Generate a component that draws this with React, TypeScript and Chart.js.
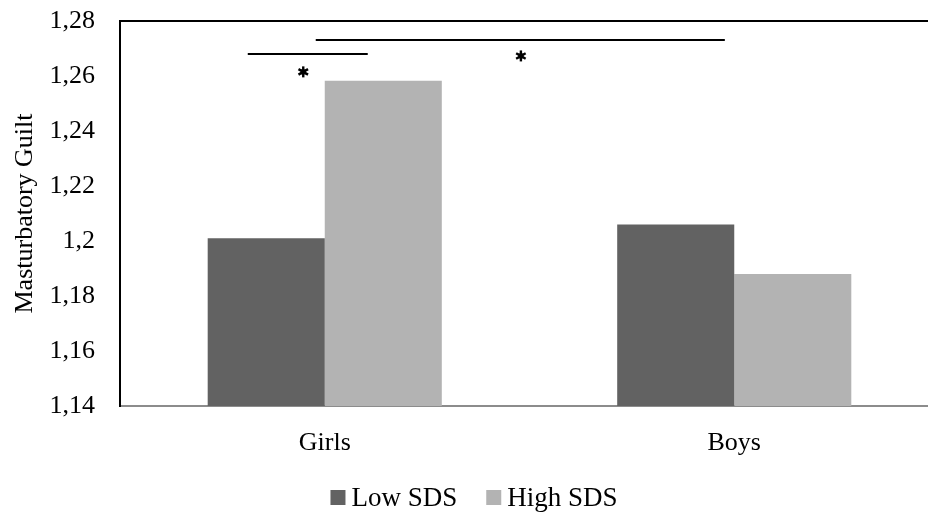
import React, { useEffect, useRef } from "react";
import { Chart, registerables } from "chart.js";

Chart.register(...registerables);

const categories = ["Girls", "Boys"];
const seriesNames = ["Low SDS", "High SDS"];
const lowSDS = [1.201, 1.206];
const highSDS = [1.2583, 1.188];
const seriesColors = ["#626262", "#b3b3b3"];
const yTickValues = [1.14, 1.16, 1.18, 1.2, 1.22, 1.24, 1.26, 1.28];
const yTickLabels = ["1,14", "1,16", "1,18", "1,2", "1,22", "1,24", "1,26", "1,28"];
// significance brackets (x in category-index units, y in data units)
const bracketX1 = [-0.188, -0.022];
const bracketX2 = [0.105, 0.977];
const bracketY = [1.268, 1.2731];
// significance stars
const starX = [-0.0525, 0.479];
const starY = [1.2615, 1.2673];

const FONT = "'Liberation Serif', 'Times New Roman', serif";

const annotationPlugin = {
  id: "sigAnnotations",
  afterDatasetsDraw(chart: any) {
    const { ctx, scales } = chart;
    const xs = scales.x;
    const ys = scales.y;
    ctx.save();
    ctx.strokeStyle = "#000";
    ctx.lineWidth = 2;
    for (let i = 0; i < bracketY.length; i++) {
      const y = Math.round(ys.getPixelForValue(bracketY[i]));
      ctx.beginPath();
      ctx.moveTo(xs.getPixelForValue(bracketX1[i]), y);
      ctx.lineTo(xs.getPixelForValue(bracketX2[i]), y);
      ctx.stroke();
    }
    ctx.lineWidth = 2.4;
    for (let i = 0; i < starX.length; i++) {
      const cx = xs.getPixelForValue(starX[i]);
      const cy = ys.getPixelForValue(starY[i]);
      const r = 5.5;
      for (let k = 0; k < 3; k++) {
        const a = Math.PI / 2 + (k * Math.PI) / 3;
        ctx.beginPath();
        ctx.moveTo(cx + r * Math.cos(a), cy + r * Math.sin(a));
        ctx.lineTo(cx - r * Math.cos(a), cy - r * Math.sin(a));
        ctx.stroke();
      }
      ctx.fillStyle = "#000";
      ctx.fillRect(cx - 2.5, cy - 2.5, 5, 5);
    }
    ctx.restore();
  },
};

const legendPlugin = {
  id: "customLegend",
  afterDraw(chart: any) {
    const { ctx } = chart;
    ctx.save();
    ctx.font = `27px ${FONT}`;
    const box = 15;
    const gapText = 6;
    const gapItem = 29;
    const widths = seriesNames.map((n) => ctx.measureText(n).width);
    let total = 0;
    widths.forEach((w, i) => {
      total += box + gapText + w + (i < widths.length - 1 ? gapItem : 0);
    });
    const centerX = 474;
    const cy = 497.5;
    let x = centerX - total / 2;
    ctx.textBaseline = "middle";
    ctx.textAlign = "left";
    seriesNames.forEach((n, i) => {
      ctx.fillStyle = seriesColors[i];
      ctx.fillRect(x, cy - box / 2, box, box);
      x += box + gapText;
      ctx.fillStyle = "#000";
      ctx.fillText(n, x, cy + 1);
      x += widths[i] + gapItem;
    });
    ctx.restore();
  },
};

export default function App() {
  const ref = useRef<HTMLCanvasElement | null>(null);
  useEffect(() => {
    if (!ref.current) return;
    const chart = new Chart(ref.current, {
      type: "bar",
      data: {
        labels: categories,
        datasets: [
          { label: seriesNames[0], data: lowSDS, backgroundColor: seriesColors[0], borderWidth: 0 },
          { label: seriesNames[1], data: highSDS, backgroundColor: seriesColors[1], borderWidth: 0 },
        ],
      },
      options: {
        animation: false,
        responsive: false,
        devicePixelRatio: 1,
        layout: { padding: { left: 0, right: 0, top: 21, bottom: 0 } },
        plugins: {
          legend: { display: false },
          tooltip: { enabled: false },
        },
        datasets: {
          bar: { categoryPercentage: 0.5717, barPercentage: 1 },
        },
        scales: {
          x: {
            grid: { display: false, drawTicks: false },
            border: { display: true, color: "#8c8c8c", width: 2 },
            ticks: {
              color: "#000",
              padding: 22,
              font: { family: FONT, size: 26 },
            },
            afterFit: (scale: any) => {
              scale.height = 109;
              scale.paddingLeft = 0;
              scale.paddingRight = 0;
            },
          },
          y: {
            min: 1.14,
            max: 1.28,
            afterBuildTicks: (scale: any) => {
              scale.ticks = yTickValues.map((v) => ({ value: v }));
            },
            afterFit: (scale: any) => {
              scale.width = 120;
              scale.paddingTop = 0;
              scale.paddingBottom = 0;
            },
            grid: {
              display: true,
              drawTicks: false,
              lineWidth: 2,
              color: (c: any) =>
                c.index === yTickValues.length - 1 ? "#000" : "rgba(0,0,0,0)",
            },
            border: { display: true, color: "#000", width: 2 },
            ticks: {
              color: "#000",
              padding: 25,
              font: { family: FONT, size: 26 },
              callback: (_v: any, i: number) => yTickLabels[i],
            },
            title: {
              display: true,
              text: "Masturbatory Guilt",
              color: "#000",
              font: { family: FONT, size: 26 },
              padding: { top: 10, bottom: 0 },
            },
          },
        },
      },
      plugins: [annotationPlugin, legendPlugin],
    });
    return () => chart.destroy();
  }, []);
  return (
    <div
      style={{
        position: "fixed",
        left: 0,
        top: 0,
        width: 928,
        height: 515,
        overflow: "hidden",
        background: "#fff",
      }}
    >
      <canvas ref={ref} width={939} height={515} style={{ display: "block" }} />
    </div>
  );
}
